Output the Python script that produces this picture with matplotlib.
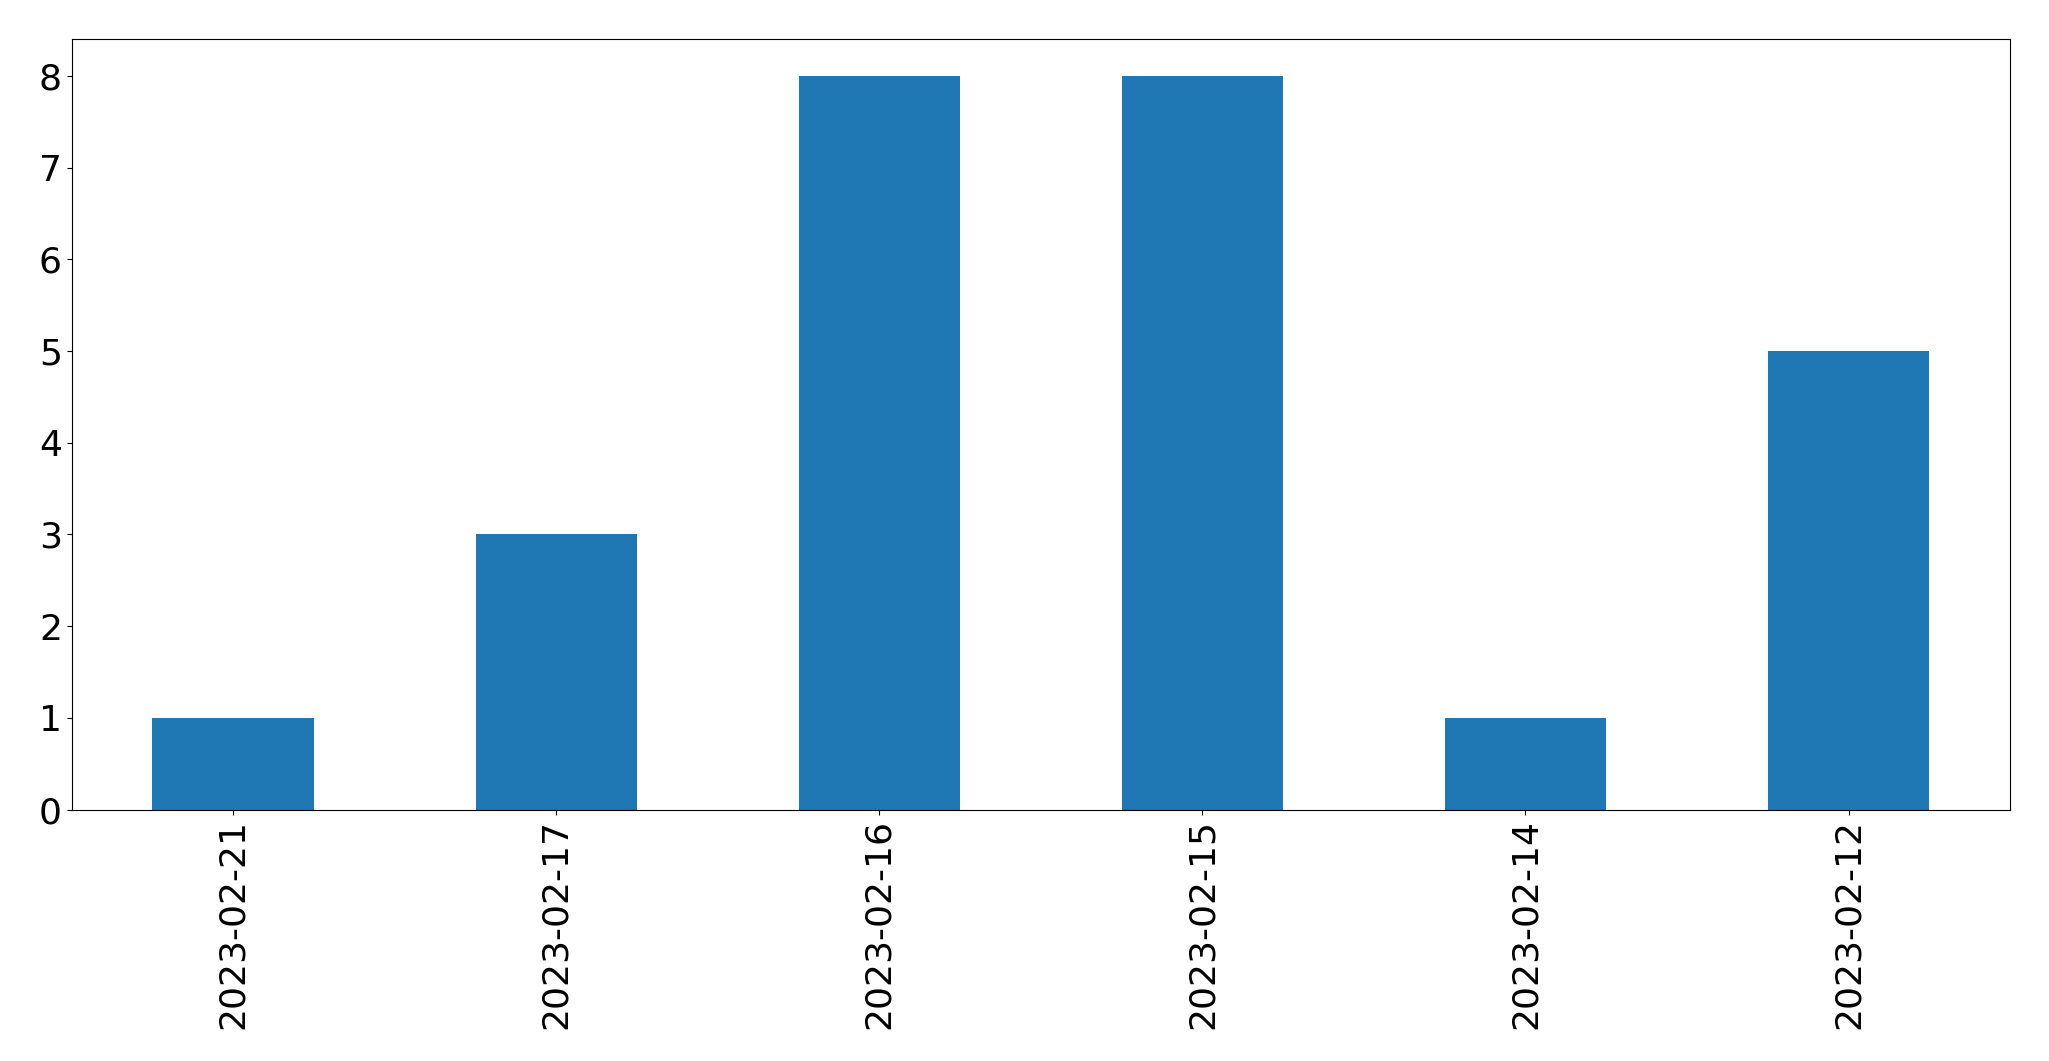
import matplotlib
matplotlib.use("Agg")
import matplotlib.pyplot as plt
import pandas as pd

dates = ["2023-02-21", "2023-02-17", "2023-02-16", "2023-02-15", "2023-02-14", "2023-02-12"]
counts = [1, 3, 8, 8, 1, 5]

series = pd.Series(counts, index=dates)

fig, ax = plt.subplots(figsize=(20.49, 10.61), dpi=100)
series.plot(kind="bar", ax=ax, color="#1f77b4", width=0.5, fontsize=26)
ax.set_ylim(0, 8.4)
fig.subplots_adjust(left=0.035, right=0.981, top=0.963, bottom=0.237)
fig.savefig("out.png", dpi=100)
plt.close(fig)
